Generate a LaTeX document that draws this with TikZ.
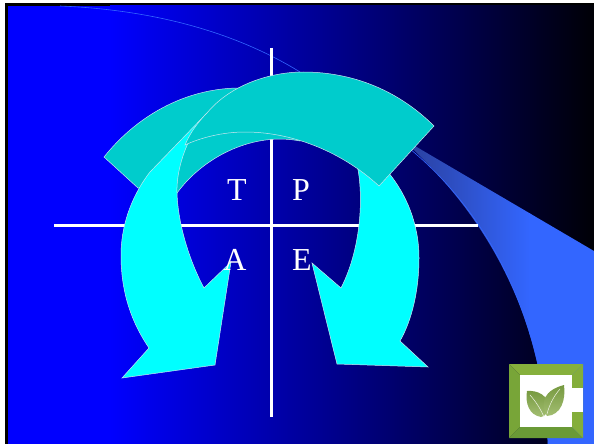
\documentclass[tikz,border=0pt]{standalone}
\usepackage{fontspec}
\setmainfont{Liberation Serif}
\definecolor{teal1}{HTML}{00CCCC}
\definecolor{cyan1}{HTML}{00FFFF}
\definecolor{sliver}{HTML}{3366FF}
\definecolor{sliverd}{HTML}{2A3F9C}
\definecolor{edge1}{HTML}{C8E6F0}
\definecolor{ftop}{HTML}{86B03C}
\definecolor{fleft}{HTML}{78A538}
\definecolor{fbot}{HTML}{6A9A36}
\definecolor{fright}{HTML}{84AE3A}
\definecolor{leafa}{HTML}{A3BE72}
\definecolor{leafb}{HTML}{76993F}
\tikzset{
  band/.style={fill=teal1,draw=edge1,line width=0.5pt,line join=miter},
  arrowshape/.style={fill=cyan1,draw=edge1,line width=0.5pt,line join=miter},
  axisline/.style={draw=white,line width=3pt},
  letter/.style={text=white,font=\fontsize{32}{32}\selectfont,inner sep=0pt,anchor=center},
}
\begin{document}
\begin{tikzpicture}[x=1pt,y=-1pt]
\useasboundingbox (0,0) rectangle (594,444);
\fill[white] (0,0) rectangle (594,444);
\fill[black] (5,3) rectangle (594,444);
% background gradient
\begin{scope}
\clip (0,0) rectangle (594,444);
\shade[left color=blue,right color=black] (110,6) rectangle (606,444);
\end{scope}
\fill[blue] (7.5,6) rectangle (110.5,444);
% sliver
\begin{scope}
\clip (300,72) -- (415,146) -- (594,251) -- (594,444) -- (548,444)
  .. controls (543,320) and (490,215) .. (395,133) -- cycle;
\shade[left color=sliverd,right color=sliver] (405,100) rectangle (530,444);
\fill[sliver] (529,100) rectangle (594,444);
\end{scope}
\draw[sliver,line width=0.6pt] (60,6) .. controls (160,10) and (240,35) .. (300,72);
\draw[sliver,line width=0.6pt] (410,149) .. controls (490,215) and (543,320) .. (548,444);
% axes
\coordinate (vt) at (271,48); \coordinate (vb) at (271,417);
\coordinate (hl) at (54,225); \coordinate (hr) at (478,225);
\draw[axisline] (vt) -- (vb);
\draw[axisline] (hl) -- (hr);
% back band
\path[band] (104,157) .. controls (140,112) and (190,88) .. (240,88)
  -- (300,100) -- (300,141) .. controls (255,132) and (205,155) .. (177,193)
  -- (138,188) -- cycle;
% left arrow
\path[arrowshape] (207,113) .. controls (190,132) and (176,165) .. (177,193)
  .. controls (178,225) and (190,262) .. (204,288)
  -- (231,262) -- (215,365) -- (122,378) -- (149,348)
  .. controls (130,320) and (121,290) .. (121,255)
  .. controls (121,228) and (130,198) .. (150,172) -- cycle;
% right arrow
\path[arrowshape] (357,165) .. controls (363,190) and (363,245) .. (341,288)
  -- (312,263) -- (337,364) -- (428,367) -- (400,341)
  .. controls (412,320) and (419,290) .. (419,258)
  .. controls (419,225) and (407,195) .. (388,172) -- cycle;
% top band
\path[band] (207,113) .. controls (230,85) and (270,72) .. (303,72)
  .. controls (355,72) and (400,92) .. (434,126)
  -- (379,186)
  .. controls (340,150) and (290,132) .. (245,132)
  .. controls (222,132) and (200,138) .. (185,145)
  .. controls (190,133) and (198,122) .. (207,113) -- cycle;
% letters
\node[letter] (T) at (237,190) {T};
\node[letter] (P) at (301,190) {P};
\node[letter] (A) at (235,260) {A};
\node[letter] (E) at (302,260) {E};
% logo
\fill[ftop] (509,364) -- (583,364) -- (572,375) -- (520,375) -- cycle;
\fill[fleft] (509,364) -- (520,375) -- (520,427) -- (509,438) -- cycle;
\fill[fbot] (509,438) -- (520,427) -- (572,427) -- (583,438) -- cycle;
\fill[fright] (583,364) -- (572,375) -- (572,427) -- (583,438) -- cycle;
\fill[white] (520,375) rectangle (572,427);
\fill[white] (571,388) rectangle (583,412);
\shade[top color=leafb,bottom color=leafa] (541,417) .. controls (529,415) and (525,403) .. (527,391)
  .. controls (538,390) and (549,396) .. (548,407) .. controls (548,412) and (546,416) .. (541,417) -- cycle;
\shade[top color=leafb,bottom color=leafa] (547,416) .. controls (539,402) and (545,390) .. (564,385)
  .. controls (566,400) and (561,415) .. (547,416) -- cycle;
\draw[white!80!leafa,line width=0.5pt] (530,395) .. controls (537,403) and (541,410) .. (544,417);
\draw[white!80!leafa,line width=0.5pt] (560,389) .. controls (553,397) and (549,406) .. (547,414);
\end{tikzpicture}
\end{document}
